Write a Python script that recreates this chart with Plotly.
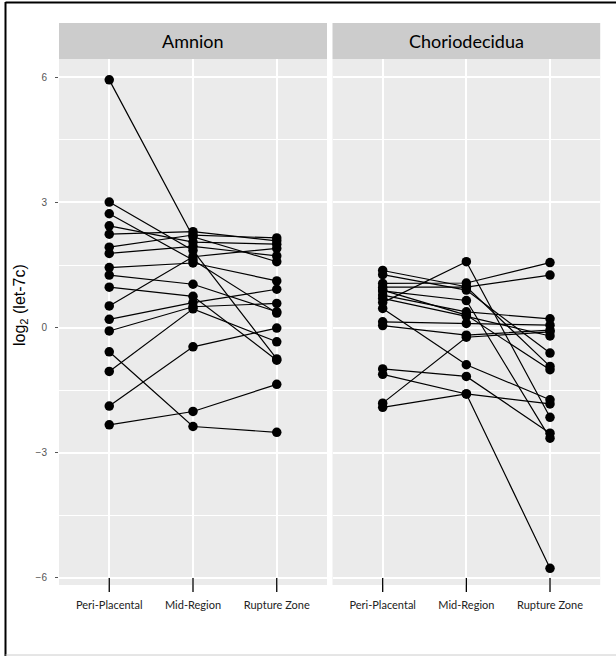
import plotly.graph_objects as go

# ---------------- data ----------------
regions = ["Peri-Placental", "Mid-Region", "Rupture Zone"]
panels = ["Amnion", "Choriodecidua"]

amnion_peri = [5.94, 3.01, 2.73, 2.44, 2.24, 1.93, 1.78, 1.44, 1.26, 0.97, 0.52, 0.20, -0.08, -0.58, -1.05, -1.88, -2.33]
amnion_mid = [2.18, 1.85, 1.62, 2.05, 2.30, 2.22, 1.95, 1.55, 1.04, 0.75, 1.70, 0.60, 0.50, -2.37, 0.45, -0.46, -2.01]
amnion_rupture = [1.58, -0.75, 0.35, 2.00, 2.08, 2.15, 1.72, 1.12, 0.38, -0.78, 1.90, 0.92, 0.58, -2.51, -0.34, -0.01, -1.36]

chorio_peri = [1.37, 1.27, 1.06, 0.97, 0.88, 0.78, 0.70, 0.60, 0.46, 0.14, 0.05, -0.99, -1.12, -1.81, -1.91, 0.90]
chorio_mid = [0.98, 0.90, 1.07, 0.97, 0.65, 0.38, 0.27, 1.58, -0.89, 0.10, -0.18, -1.17, -1.59, -0.23, -1.59, 0.30]
chorio_rupture = [-0.93, -0.61, 1.56, 1.26, -2.65, 0.21, -0.20, -2.15, -1.73, 0.06, -0.06, -2.53, -5.77, -0.10, -1.83, -1.01]

y_ticks = [-6, -3, 0, 3, 6]
y_tick_text = ["\u22126", "\u22123", "0", "3", "6"]
y_minor = [-4.5, -1.5, 1.5, 4.5]

# ---------------- layout helpers ----------------
W, H = 616, 656
def fx(p):
    return p / W
def fy(p):
    return 1 - p / H

panel_x = [(59, 327), (332.5, 600.2)]
panel_top, panel_bottom = 59, 585
strip_top = 23

fig = go.Figure()
series = [(amnion_peri, amnion_mid, amnion_rupture), (chorio_peri, chorio_mid, chorio_rupture)]
for k, (peri, mid, rup) in enumerate(series):
    xs, ys = [], []
    for a, b, c in zip(peri, mid, rup):
        xs += regions + [None]
        ys += [a, b, c, None]
    fig.add_trace(go.Scatter(
        x=xs, y=ys, mode="lines+markers",
        xaxis="x" if k == 0 else "x2", yaxis="y" if k == 0 else "y2",
        line=dict(color="black", width=1.2),
        marker=dict(size=9.5, color="black"),
        connectgaps=False, showlegend=False, hoverinfo="skip",
    ))

axis_common = dict(
    type="category", categoryarray=regions, categoryorder="array",
    range=[-0.6, 2.6], showgrid=True, gridcolor="white", gridwidth=1.5,
    zeroline=False, ticks="", showline=False,
    tickfont=dict(family="Lato", size=11, color="#222222"),
    ticklabelstandoff=12,
)
yaxis_common = dict(
    range=[-6.17, 6.44], tickvals=y_ticks, ticktext=y_tick_text,
    showgrid=True, gridcolor="white", gridwidth=1.5, zeroline=False, showline=False,
    minor=dict(tickvals=y_minor, showgrid=True, gridcolor="white", gridwidth=0.7, ticks=""),
    domain=[fy(panel_bottom), fy(panel_top)],
)

fig.update_layout(
    width=W, height=H,
    margin=dict(l=0, r=0, t=0, b=0),
    paper_bgcolor="white", plot_bgcolor="#EBEBEB",
    xaxis=dict(domain=[fx(panel_x[0][0]), fx(panel_x[0][1])], anchor="y", **axis_common),
    xaxis2=dict(domain=[fx(panel_x[1][0]), fx(panel_x[1][1])], anchor="y2", **axis_common),
    yaxis=dict(anchor="x", ticks="outside", ticklen=3, tickcolor="#555555", tickwidth=1,
               tickfont=dict(family="Liberation Sans", size=10, color="#555555"),
               ticklabelstandoff=6, **yaxis_common),
    yaxis2=dict(anchor="x2", matches="y", showticklabels=False, ticks="", **yaxis_common),
    font=dict(family="Liberation Sans"),
)

shapes = []
annotations = []
for k, (x0, x1) in enumerate(panel_x):
    shapes.append(dict(type="rect", xref="paper", yref="paper",
                       x0=fx(x0), x1=fx(x1), y0=fy(panel_top), y1=fy(strip_top),
                       fillcolor="#CCCCCC", line=dict(width=0), layer="below"))
    annotations.append(dict(text=panels[k], xref="paper", yref="paper",
                            x=fx((x0 + x1) / 2), y=fy((strip_top + panel_top) / 2),
                            showarrow=False, xanchor="center", yanchor="middle",
                            font=dict(family="Lato", size=18, color="black")))
    xr = "x" if k == 0 else "x2"
    for i, _ in enumerate(regions):
        shapes.append(dict(type="line", xref=xr, yref="paper", x0=i, x1=i,
                           y0=fy(578), y1=fy(592), line=dict(color="black", width=1.3)))

# outer frame
shapes.append(dict(type="line", xref="paper", yref="paper", x0=fx(5.5), x1=fx(5.5),
                   y0=0, y1=fy(2), line=dict(color="black", width=2)))
shapes.append(dict(type="line", xref="paper", yref="paper", x0=fx(5.5), x1=1,
                   y0=fy(2.5), y1=fy(2.5), line=dict(color="black", width=2)))
shapes.append(dict(type="line", xref="paper", yref="paper", x0=fx(5.5), x1=1,
                   y0=fy(655), y1=fy(655), line=dict(color="#CCCCCC", width=1)))

annotations.append(dict(text="log<sub>2</sub> (let-7c)", xref="paper", yref="paper",
                        x=fx(20), y=fy(305), textangle=-90, showarrow=False,
                        xanchor="center", yanchor="middle",
                        font=dict(family="Liberation Sans", size=16, color="black")))

fig.update_layout(shapes=shapes, annotations=annotations)
fig.write_html("out.html")
